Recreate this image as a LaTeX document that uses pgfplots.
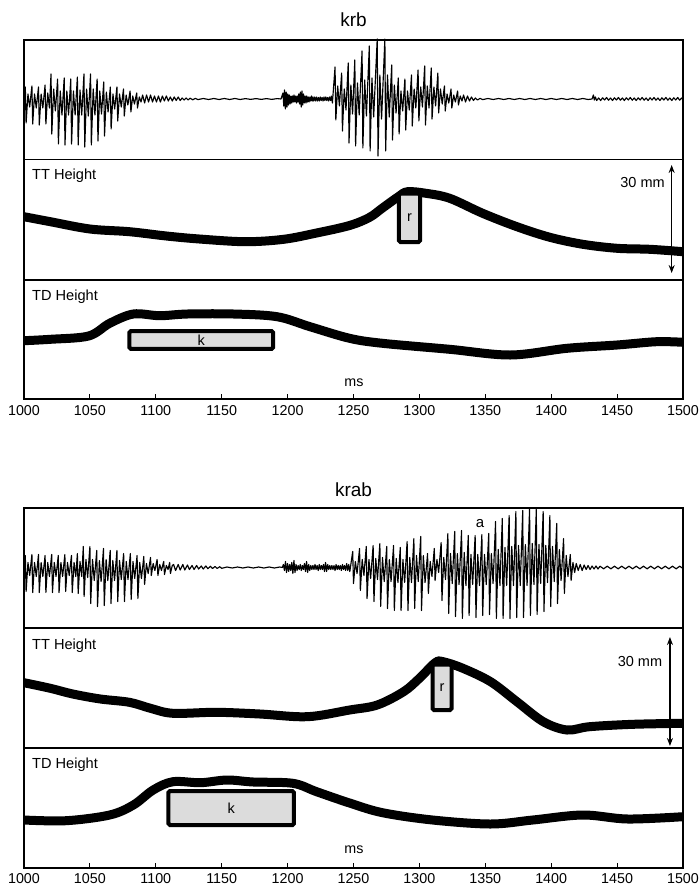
\documentclass[border=0pt]{standalone}
\usepackage{fontspec}
\setmainfont{Liberation Sans}
\usepackage{pgfplots}
\pgfplotsset{compat=1.18}
\usetikzlibrary{arrows.meta}
\definecolor{boxgray}{HTML}{DCDCDC}

\pgfplotsset{
  panel/.style={scale only axis, width=659pt, xmin=1000, xmax=1500,
    enlargelimits=false, anchor=south west,
    axis line style={line width=1.8pt}, xtick=\empty, ytick=\empty},
  timeaxis/.style={xtick={1000,1050,...,1500}, xtick pos=left, tick align=inside,
    major tick length=5pt, major tick style={line width=1.1pt, black},
    /pgf/number format/1000 sep={}, /pgf/number format/assume math mode=true,
    xticklabel style={font=\fontsize{14.3}{16}\selectfont, yshift=-2.5pt}},
  curve/.style={black, line width=9pt, smooth, tension=0.55, no markers},
  wave/.style={black, line width=1.15pt, line join=round, no markers},
  seg/.style={fill=boxgray, draw=black, line width=4pt, rounded corners=1.5pt},
}
\tikzset{
  lab/.style={font=\fontsize{14.6}{16}\selectfont, anchor=north west, inner sep=0pt},
  mm/.style={{Stealth[length=8pt,width=6pt]}-{Stealth[length=8pt,width=6pt]}, line width=1.1pt},
}

\begin{document}
\begin{tikzpicture}
\path[use as bounding box] (0pt,0pt) rectangle (700pt,-886pt);

% ---------------- krb
\node[font=\fontsize{19}{22}\selectfont, anchor=base] at (353.5pt,-26pt) {krb};

\begin{axis}[panel, at={(24pt,-159.5pt)}, height=119.5pt, ymin=-60.5, ymax=59, clip=false]
\addplot[wave] coordinates {
(1000,-3)
(1001,12)(1001.6,-24)(1003,5)(1004.3,-8) (1006,13)(1006.6,-25)(1008,5)(1009.3,-9)
(1011,12)(1011.6,-26)(1013,5)(1014.3,-9) (1016,14)(1016.6,-25)(1018,6)(1019.3,-9)
(1020.5,25)(1021.1,-35)(1022.5,10)(1023.8,-12) (1025.5,20)(1026.1,-45)(1027.5,8)(1028.8,-16)
(1030.5,21)(1031.1,-46)(1032.5,8)(1033.8,-16) (1035.5,20)(1036.1,-45)(1037.5,8)(1038.8,-16)
(1040.5,22)(1041.1,-46)(1042.5,9)(1043.8,-16) (1045.5,25)(1046.1,-48)(1047.5,10)(1048.8,-17)
(1050.5,25)(1051.1,-46)(1052.5,10)(1053.8,-16) (1055.5,20)(1056.1,-42)(1057.5,8)(1058.8,-15)
(1060.5,17)(1061.1,-37)(1062.5,7)(1063.8,-13) (1065.5,12)(1066.1,-30)(1067.5,5)(1068.8,-10)
(1070.5,12)(1071.1,-22)(1072.5,5)(1073.8,-8) (1075.5,10)(1076.1,-17)(1077.5,4)(1078.8,-6)
(1080.5,8)(1081.1,-13)(1082.5,3)(1083.8,-5) (1085.5,6)(1086.1,-9)(1087.5,2)(1088.8,-3)
(1090,4)(1091.5,-4)(1093,4)(1094.5,-3)(1096,4)(1097.5,-3)(1099,3)(1100.5,-3)(1102,3)(1103.5,-3)
(1105,3)(1106.5,-2)(1108,3)(1109.5,-2)(1111,2)(1112.5,-2)(1114,2)(1115.5,-1.5)(1117,2)(1118.5,-1.5)
(1120,1)(1121.5,-1)(1123,1)(1124.5,-1)(1126,0.8)(1128,-0.8)(1130,0.6)(1132,-0.6)
(1136,0.5)(1140,-0.5)(1144,0.5)(1148,-0.5)(1152,0.5)(1156,-0.5)(1160,0.5)(1164,-0.5)
(1168,0.4)(1172,-0.4)(1176,0.4)(1180,-0.4)(1184,0.4)(1188,-0.4)(1192,0.4)(1195,0)
(1196.5,6)(1197.1,-7)(1197.7,9)(1198.3,-10)(1198.9,7)(1199.5,-8)(1200.1,5)(1200.7,-6)(1201.3,4)(1201.9,-5)
(1202.5,3)(1203.1,-4)(1203.7,3)(1204.3,-3)(1204.9,4)(1205.5,-3)(1206.1,3)(1206.7,-4)(1207.3,3)(1207.9,-3)
(1208.5,5)(1209.1,-5)(1209.7,7)(1210.3,-8)(1210.9,8)(1211.5,-6)(1212.1,5)(1212.7,-4)(1213.3,3)(1213.9,-4)
(1214.5,3)(1215.1,-3)(1215.7,2)(1216.3,-3)(1216.9,2)(1217.5,-2)(1218.1,3)(1218.7,-2)(1219.3,2)(1219.9,-2)
(1220.6,2)(1221.3,-2)(1222,2)(1222.7,-2)(1223.4,1.5)(1224.1,-2)(1224.8,2)(1225.5,-1.5)(1226.2,1.5)(1226.9,-2)
(1227.6,2)(1228.3,-1.5)(1229,2)(1229.7,-1.5)(1230.4,1.5)(1231.1,-2)(1231.8,2)(1232.5,-1.5)(1233.2,3)(1234,-4)
(1236,32)(1236.6,-21)(1238,13)(1239.3,-7) (1241,26)(1241.6,-32)(1243,10)(1244.3,-11)
(1246,36)(1246.6,-44)(1248,14)(1249.3,-15) (1251,39)(1251.6,-47)(1253,16)(1254.3,-16)
(1256.5,48)(1257.1,-49)(1258.5,19)(1259.8,-17) (1262,53)(1262.6,-52)(1264,21)(1265.3,-18)
(1268,60)(1268.6,-57)(1270,24)(1271.3,-20) (1273.8,60)(1274.4,-52)(1275.8,24)(1277.1,-18)
(1279,34)(1279.6,-41)(1281,14)(1282.3,-14) (1284,21)(1284.6,-35)(1286,8)(1287.3,-12)
(1289,20)(1289.6,-31)(1291,8)(1292.3,-11) (1294,24)(1294.6,-27)(1296,10)(1297.3,-9)
(1299,29)(1299.6,-22)(1301,12)(1302.3,-8) (1304,33)(1304.6,-26)(1306,13)(1307.3,-9)
(1309,31)(1309.6,-20)(1311,12)(1312.3,-7) (1314,26)(1314.6,-14)(1316,10)(1317.3,-5)
(1319,13)(1319.6,-12)(1321,5)(1322.3,-4) (1324,10)(1324.6,-9)(1326,4)(1327.3,-3)
(1329,8)(1329.6,-6)(1331,3)(1332.3,-2)
(1333.5,4)(1335,-3)(1336.5,3)(1338,-2)(1339.5,2)(1341,-1.5)(1342.5,1)(1344,-1)(1346,0.6)(1348,-0.6)
(1352,0.5)(1356,-0.5)(1360,0.5)(1364,-0.5)(1368,0.5)(1372,-0.5)(1376,0.5)(1380,-0.5)(1384,0.5)(1388,-0.5)
(1392,0.5)(1396,-0.5)(1400,0.5)(1404,-0.5)(1408,0.5)(1412,-0.5)(1416,0.5)(1420,-0.5)(1424,0.5)(1428,-0.5)(1431,0)
(1432,4)(1432.7,-1)(1433.5,2)(1434.5,-1.5)(1436,1)(1437.5,-1.5)(1439,1.2)(1440.5,-1)(1442,1.5)(1443.5,-1.2)
(1445,1)(1446.5,-1.5)(1448,1.2)(1449.5,-1)(1451,1.5)(1452.5,-1.2)(1454,1)(1455.5,-1.5)(1457,1.2)(1458.5,-1)
(1460,1.5)(1461.5,-1.2)(1463,1)(1464.5,-1.5)(1466,1.2)(1467.5,-1)(1469,1.5)(1470.5,-1.2)(1472,1)(1473.5,-1.5)
(1475,1.2)(1476.5,-1)(1478,1.5)(1479.5,-1.2)(1481,1)(1482.5,-1.5)(1484,1.2)(1485.5,-1)(1487,1.5)(1488.5,-1.2)
(1490,1)(1491.5,-1.5)(1493,1.2)(1494.5,-1)(1496,1.5)(1497.5,-1.2)(1499,1)(1500,-0.5)
};
\end{axis}

\begin{axis}[panel, at={(24pt,-280pt)}, height=120.5pt, ymin=0, ymax=120.5]
\addplot[curve] coordinates {
(1000,63.3)(1020,58.3)(1050,51)(1080,48.3)(1108,44)(1133,41)(1168,38.3)(1197,40.7)
(1222,47)(1247,54.5)(1262,62.5)(1272,72)(1284,83.3)(1291,88.3)(1305,86.7)(1323,81.7)
(1348,66.7)(1374,53.3)(1399,42.7)(1424,35.7)(1450,31.7)(1475,30.7)(1500,28.3)};
\addplot[seg] coordinates {(1284.5,38)(1300.5,38)(1300.5,86.5)(1284.5,86.5)} -- cycle;
\node[font=\fontsize{14.5}{16}\selectfont] at (axis cs:1292.5,62) {r};
\node[lab] at ([xshift=8pt,yshift=-9.5pt]rel axis cs:0,1) {TT Height};
\draw[mm] (axis cs:1491.4,7) -- (axis cs:1491.4,115);
\node[font=\fontsize{14.5}{16}\selectfont, anchor=base east, inner sep=0pt] at (axis cs:1486.3,92.3) {30 mm};
\end{axis}

\begin{axis}[panel, timeaxis, at={(24pt,-399.3pt)}, height=119.3pt, ymin=0, ymax=119.3]
\addplot[curve] coordinates {
(1000,58.6)(1020,60)(1049,63.3)(1065,76)(1083,85.3)(1103,83.6)(1124,85.3)(1159,85.3)
(1192,82.6)(1217,72.6)(1247,61)(1272,56)(1323,50)(1369,44.3)(1412,51)(1450,54.3)
(1480,57.6)(1500,57)};
\addplot[seg] coordinates {(1080,50.4)(1189,50.4)(1189,68.3)(1080,68.3)} -- cycle;
\node[font=\fontsize{14.5}{16}\selectfont] at (axis cs:1134.5,59.3) {k};
\node[lab] at ([xshift=8pt,yshift=-9.5pt]rel axis cs:0,1) {TD Height};
\node[font=\fontsize{14.3}{16}\selectfont, anchor=base, inner sep=0pt] at (axis cs:1250.4,12.6) {ms};
\end{axis}

% ---------------- krab
\node[font=\fontsize{19}{22}\selectfont, anchor=base] at (353.5pt,-496.7pt) {krab};

\begin{axis}[panel, at={(24pt,-627.8pt)}, height=119.8pt, ymin=-60.3, ymax=59.5, clip=false]
\addplot[wave] coordinates {
(1000,-3)
(1001,12)(1001.6,-24)(1003,5)(1004.3,-8) (1006,13)(1006.6,-25)(1008,5)(1009.3,-9)
(1011,13)(1011.6,-25)(1013,5)(1014.3,-9) (1016,12)(1016.6,-25)(1018,5)(1019.3,-9)
(1021,13)(1021.6,-25)(1023,5)(1024.3,-9) (1026,12)(1026.6,-25)(1028,5)(1029.3,-9)
(1031,13)(1031.6,-24)(1033,5)(1034.3,-8) (1036,12)(1036.6,-25)(1038,5)(1039.3,-9)
(1040.5,14)(1041.1,-26)(1042.5,6)(1043.8,-9) (1045,21)(1045.6,-29)(1047,8)(1048.3,-10)
(1050,21)(1050.6,-36)(1052,8)(1053.3,-13) (1055.2,17)(1055.8,-39)(1057.2,7)(1058.5,-14)
(1060.3,19)(1060.9,-38)(1062.3,8)(1063.6,-13) (1065.4,17)(1066,-36)(1067.4,7)(1068.7,-13)
(1070.5,17)(1071.1,-34)(1072.5,7)(1073.8,-12) (1075.6,14)(1076.2,-34)(1077.6,6)(1078.9,-12)
(1080.7,14)(1081.3,-32)(1082.7,6)(1084,-11) (1085.8,12)(1086.4,-31)(1087.8,5)(1089.1,-11)
(1090.9,11)(1091.5,-17)(1092.9,4)(1094.2,-6) (1096,10)(1096.6,-8)(1098,4)(1099.3,-3)
(1101,8)(1101.6,-8)(1103,3)(1104.3,-3) (1106,6)(1106.6,-7)(1108,2)(1109.3,-2)
(1110.5,5)(1111.1,-6)(1112.5,2)
(1113.5,3)(1115,-3)(1117,3)(1118.5,-2.5)(1120.5,3)(1122,-2.5)(1124,2.5)(1125.5,-2)(1127.5,2)(1129,-2)
(1131,2)(1132.5,-1.5)(1134.5,1.5)(1136,-1.5)(1138,1.5)(1139.5,-1.2)(1141.5,1.2)(1143,-1)(1145,1)(1146.5,-1)
(1148.5,0.8)(1150,-0.8)
(1154,0.5)(1158,-0.5)(1162,0.5)(1166,-0.5)(1170,0.5)(1174,-0.5)(1178,0.5)(1182,-0.5)(1186,0.5)(1190,-0.5)(1194,0.5)
(1196,0)(1196.8,3)(1197.6,-3)(1198.4,6)(1199.2,-5)(1200,4)(1200.8,-4)(1201.6,3)(1202.4,-3)(1203.2,5)
(1204,-6)(1204.8,7)(1205.6,-5)(1206.4,3)(1207.2,-3)(1208,2)(1208.8,-2)(1209.6,3)(1210.4,-3)(1211.2,2)
(1212,-2)(1212.8,4)(1213.6,-4)(1214.4,6)(1215.2,-5)(1216,3)(1216.8,-3)(1217.6,2)(1218.4,-2)(1219.2,2)
(1220,-2)(1220.8,3)(1221.6,-2)(1222.4,2)(1223.2,-3)(1224,3)(1224.8,-2)(1225.6,2)(1226.4,-2)(1227.2,3)
(1228,-4)(1228.8,5)(1229.6,-4)(1230.4,3)(1231.2,-2)(1232,2)(1232.8,-2)(1233.6,2)(1234.4,-2)(1235.2,2)
(1236,-3)(1236.8,3)(1237.6,-2)(1238.4,2)(1239.2,-2)(1240,2)(1240.8,-3)(1241.6,3)(1242.4,-2)(1243.2,2)
(1244,-3)(1244.8,4)(1245.6,-3)(1246.4,3)(1247.2,-4)(1248.2,5)
(1249.4,16)(1250,-16)(1251.4,6)(1252.7,-6) (1254.6,19)(1255.2,-23)(1256.6,8)(1257.9,-8)
(1259.7,21)(1260.3,-31)(1261.7,8)(1263,-11) (1264.9,22)(1265.5,-34)(1266.9,9)(1268.2,-12)
(1270,24)(1270.6,-39)(1272,10)(1273.3,-14) (1275.2,21)(1275.8,-41)(1277.2,8)(1278.5,-14)
(1280.4,22)(1281,-43)(1282.4,9)(1283.7,-15) (1285.5,20)(1286.1,-43)(1287.5,8)(1288.8,-15)
(1290.7,26)(1291.3,-43)(1292.7,10)(1294,-15) (1295.8,29)(1296.4,-41)(1297.8,12)(1299.1,-14)
(1301,31)(1301.6,-43)(1303,12)(1304.3,-15) (1306.2,14)(1306.8,-26)(1308.2,6)(1309.5,-9)
(1311.3,19)(1311.9,-13)(1313.3,8)(1314.6,-5) (1316.5,25)(1317.1,-33)(1318.5,10)(1319.8,-12)
(1321.6,34)(1322.2,-46)(1323.6,14)(1324.9,-16) (1326.8,36)(1327.4,-49)(1328.8,14)(1330.1,-17)
(1332,37)(1332.6,-51)(1334,15)(1335.3,-18) (1337.1,32)(1337.7,-48)(1339.1,13)(1340.4,-17)
(1342.3,32)(1342.9,-50)(1344.3,13)(1345.6,-18) (1347.4,33)(1348,-48)(1349.4,13)(1350.7,-17)
(1352.6,34)(1353.2,-47)(1354.6,14)(1355.9,-16) (1357.8,46)(1358.4,-51)(1359.8,18)(1361.1,-18)
(1362.9,49)(1363.5,-51)(1364.9,20)(1366.2,-18) (1368.1,52)(1368.7,-51)(1370.1,21)(1371.4,-18)
(1373.2,56)(1373.8,-50)(1375.2,22)(1376.5,-18) (1378.4,57)(1379,-50)(1380.4,23)(1381.7,-18)
(1383.6,59)(1384.2,-48)(1385.6,24)(1386.9,-17) (1388.7,58)(1389.3,-47)(1390.7,23)(1392,-16)
(1393.9,56)(1394.5,-44)(1395.9,22)(1397.2,-15) (1399,52)(1399.6,-39)(1401,21)(1402.3,-14)
(1404.2,44)(1404.8,-36)(1406.2,18)(1407.5,-13) (1409.4,29)(1410,-26)(1411.4,12)(1412.7,-9)
(1414.5,13)(1415.1,-13)(1416.5,5)(1417.8,-5)
(1419,4)(1420.5,-3)(1422,3)(1423.5,-3)(1425,2.5)(1426.5,-2)(1428,2)(1429.5,-2)(1431,1.5)(1432.5,-1.5)(1434,1.5)(1435.5,-1.5)
(1437,1.3)(1439.8,-1.3)(1442.5,1.3)(1445.3,-1.3)(1448,1.3)(1450.8,-1.3)(1453.5,1.3)(1456.3,-1.3)
(1459,1.3)(1461.8,-1.3)(1464.5,1.3)(1467.3,-1.3)(1470,1.3)(1472.8,-1.3)(1475.5,1.3)(1478.3,-1.3)
(1481,1.3)(1483.8,-1.3)(1486.5,1.3)(1489.3,-1.3)(1492,1.3)(1494.8,-1.3)(1497.5,1.3)(1500,-1)
};
\node[font=\fontsize{15}{17}\selectfont] at (axis cs:1346,43.5) {a};
\end{axis}

\begin{axis}[panel, at={(24pt,-747.7pt)}, height=119.9pt, ymin=0, ymax=119.9]
\addplot[curve] coordinates {
(1000,65)(1020,59.4)(1037,53.7)(1058,48.7)(1080,45.4)(1096,39.4)(1113,34.4)(1146,35.4)
(1179,33.7)(1215,31)(1247,37.7)(1268,42.7)(1288,56)(1300,69.4)(1312,85)(1318,86)
(1333,79.4)(1354,66)(1374,46)(1394,26)(1412,17.7)(1429,21)(1462,23.4)(1500,24.4)};
\addplot[seg] coordinates {(1310,37.7)(1324.4,37.7)(1324.4,83.2)(1310,83.2)} -- cycle;
\node[font=\fontsize{14.5}{16}\selectfont] at (axis cs:1317.2,60.5) {r};
\node[lab] at ([xshift=8pt,yshift=-10.5pt]rel axis cs:0,1) {TT Height};
\draw[mm] (axis cs:1490.1,1.7) -- (axis cs:1490.1,110.7);
\node[font=\fontsize{14.5}{16}\selectfont, anchor=base east, inner sep=0pt] at (axis cs:1484.3,81) {30 mm};
\end{axis}

\begin{axis}[panel, timeaxis, at={(24pt,-867.7pt)}, height=120pt, ymin=0, ymax=120]
\addplot[curve] coordinates {
(1000,47.7)(1032,47)(1065,52.7)(1083,62.7)(1098,77.7)(1113,86)(1134,85)(1154,87.7)
(1174,85.7)(1204,84.4)(1222,76)(1247,64.7)(1272,55)(1310,47.7)(1354,43.7)(1386,47.7)
(1424,52.7)(1458,48.7)(1500,51)};
\addplot[seg] coordinates {(1109.6,42.7)(1204.8,42.7)(1204.8,76.7)(1109.6,76.7)} -- cycle;
\node[font=\fontsize{14.5}{16}\selectfont] at (axis cs:1157.2,59.7) {k};
\node[lab] at ([xshift=8pt,yshift=-10.5pt]rel axis cs:0,1) {TD Height};
\node[font=\fontsize{14.3}{16}\selectfont, anchor=base, inner sep=0pt] at (axis cs:1250.4,14.4) {ms};
\end{axis}

\end{tikzpicture}
\end{document}
